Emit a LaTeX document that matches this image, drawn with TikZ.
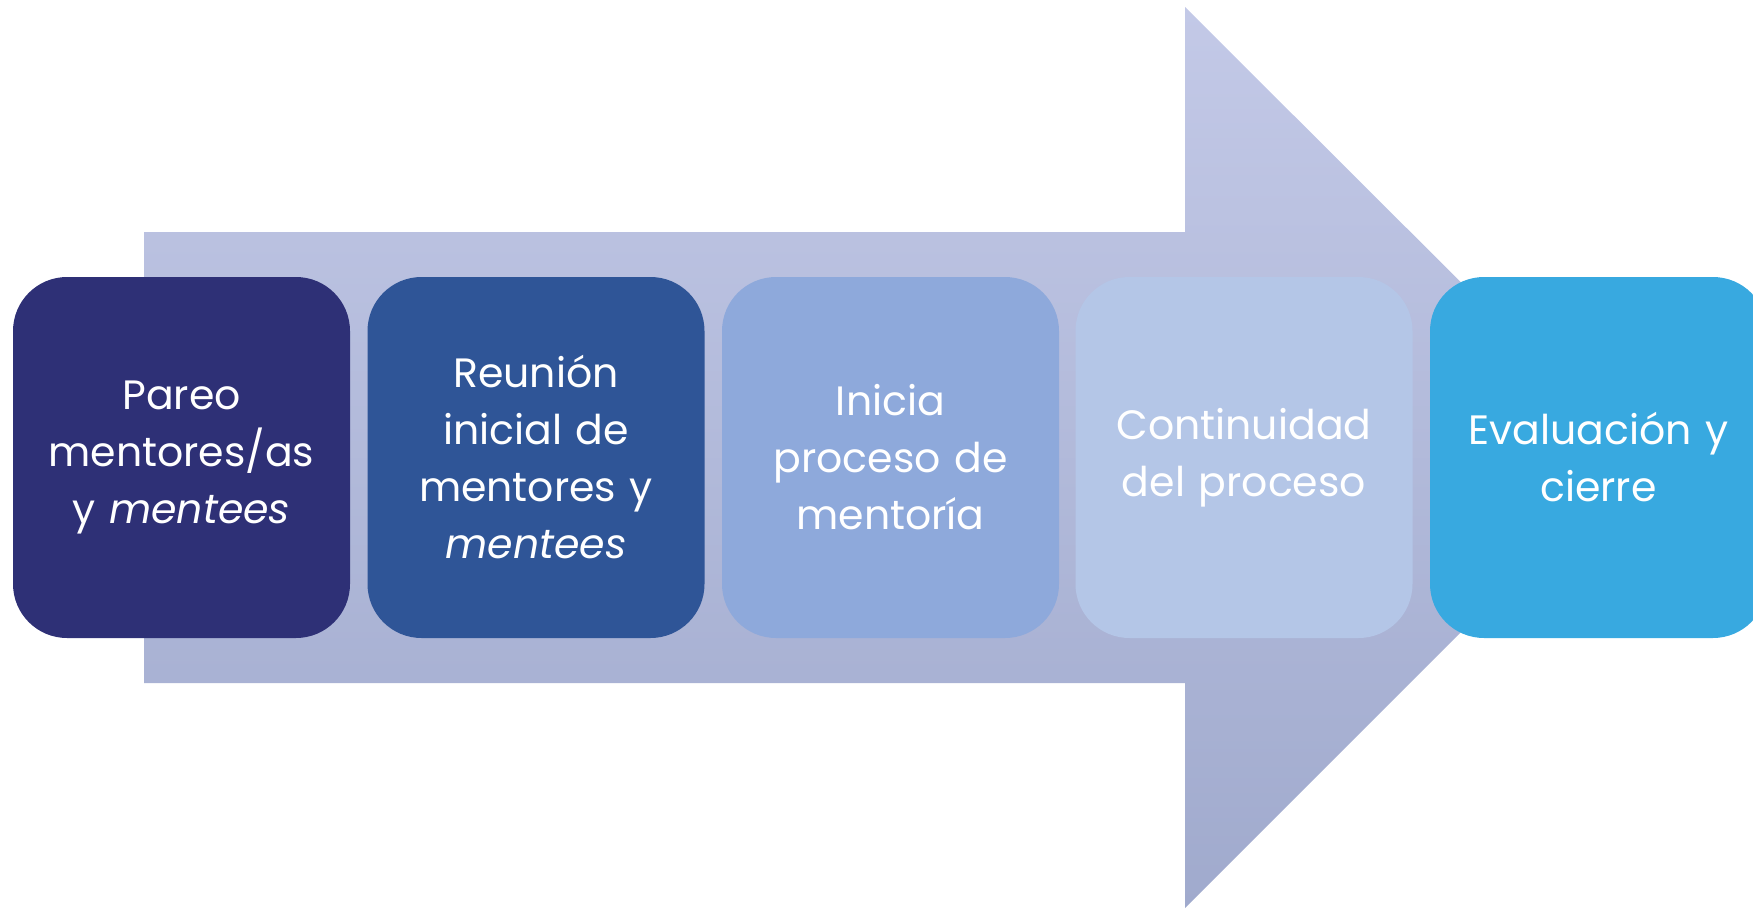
\documentclass[tikz,border=0pt]{standalone}
\usepackage{fontspec}
\setmainfont{Poppins}
\definecolor{arrowtop}{RGB}{195,201,231}
\definecolor{arrowbot}{RGB}{160,170,205}
\definecolor{cA}{RGB}{46,48,118}
\definecolor{cB}{RGB}{47,85,151}
\definecolor{cC}{RGB}{142,169,219}
\definecolor{cD}{RGB}{180,198,231}
\definecolor{cE}{RGB}{56,169,224}
\begin{document}
\begin{tikzpicture}[x=0.5pt,y=-0.5pt,
  stepbox/.style={rounded corners=27pt,minimum width=168.5pt,minimum height=180.5pt,
    inner sep=0pt,text=white,align=center,font=\fontsize{20.5}{28.5}\selectfont,
    text width=150pt},
]
\useasboundingbox (0,0) rectangle (1753,910);
\shade[top color=arrowtop,bottom color=arrowbot]
  (144,232) -- (1185,232) -- (1185,7) -- (1636,457) -- (1185,908) -- (1185,683) -- (144,683) -- cycle;
\node[stepbox,fill=cA] (s1) at (181.5,457.5) {Pareo\\mentores/as\\y \textit{mentees}};
\node[stepbox,fill=cB] (s2) at (536,457.5) {Reunión\\inicial de\\mentores y\\\textit{mentees}};
\node[stepbox,fill=cC] (s3) at (890.5,457.5) {Inicia\\proceso de\\mentoría};
\node[stepbox,fill=cD] (s4) at (1244,457.5) {Continuidad\\del proceso};
\node[stepbox,fill=cE] (s5) at (1598.5,457.5) {Evaluación y\\cierre};
\end{tikzpicture}
\end{document}
